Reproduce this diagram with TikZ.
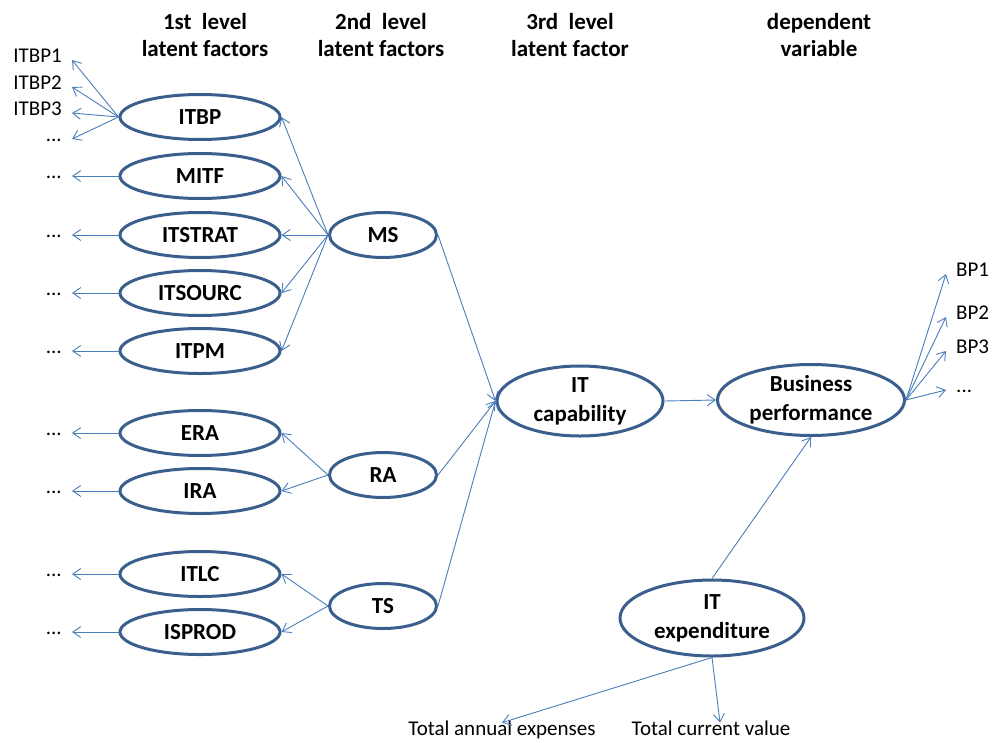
\documentclass[tikz,border=0pt]{standalone}
\usepackage{fontspec}
\setmainfont{Carlito}
\usepackage{xcolor}
\usetikzlibrary{shapes.geometric,arrows.meta,positioning}
\definecolor{ellblue}{HTML}{3B5F8D}
\definecolor{arrblue}{HTML}{4A7EBB}

\begin{document}
\begin{tikzpicture}[
  x=1pt, y=-1pt,
  lat/.style={ellipse, draw=ellblue, line width=3pt, inner sep=0pt, minimum width=160pt, minimum height=45pt, align=center, font=\fontsize{23}{29}\selectfont\bfseries},
  ind/.style={font=\fontsize{21}{25}\selectfont, inner xsep=10pt, text height=1.5ex, text depth=.25ex},
  hdr/.style={align=center, font=\fontsize{23}{27}\selectfont\bfseries},
  arr/.style={draw=arrblue, line width=0.9pt, -{Straight Barb[length=8pt,width=11pt]}}
]
\useasboundingbox (0,0) rectangle (992,742);

% column headers
\node[hdr] (h1) at (205,35) {1st\ \ level\\latent factors};
\node[hdr] (h2) at (381,35) {2nd\ \ level\\latent factors};
\node[hdr] (h3) at (570,35) {3rd\ \ level\\latent factor};
\node[hdr] (h4) at (819,35) {dependent\\variable};

% 1st level latent factors
\node[lat] (itbp) at (200,117) {ITBP};
\node[lat] (mitf) at (200,176) {MITF};
\node[lat] (itstrat) at (200,235) {ITSTRAT};
\node[lat] (itsourc) at (200,293) {ITSOURC};
\node[lat] (itpm) at (200,351) {ITPM};
\node[lat] (era) at (200,433) {ERA};
\node[lat] (ira) at (200,491) {IRA};
\node[lat] (itlc) at (200,574) {ITLC};
\node[lat] (isprod) at (200,632) {ISPROD};

% 2nd level latent factors
\node[lat, minimum width=107pt] (ms) at (383,235) {MS};
\node[lat, minimum width=107pt] (ra) at (383,475) {RA};
\node[lat, minimum width=107pt] (ts) at (383,606) {TS};

% 3rd level, dependent variable, covariate
\node[lat, minimum width=166pt, minimum height=70pt] (itcap) at (580,401) {IT\\capability};
\node[lat, minimum width=187pt, minimum height=71pt] (bp) at (811,400) {Business\\performance};
\node[lat, minimum width=184pt, minimum height=76pt] (itexp) at (712,618) {IT\\expenditure};

% indicators
\node[ind, anchor=east] (itbp1) at (72,60) {ITBP1};
\node[ind, anchor=east] (itbp2) at (72,87) {ITBP2};
\node[ind, anchor=east] (itbp3) at (72,113) {ITBP3};
\node[ind, anchor=east] (itbpn) at (72,139) {...};
\node[ind, anchor=east] (mitfn) at (72,176) {...};
\node[ind, anchor=east] (itstratn) at (72,235) {...};
\node[ind, anchor=east] (itsourcn) at (72,293) {...};
\node[ind, anchor=east] (itpmn) at (72,351) {...};
\node[ind, anchor=east] (eran) at (72,433) {...};
\node[ind, anchor=east] (iran) at (72,491) {...};
\node[ind, anchor=east] (itlcn) at (72,574) {...};
\node[ind, anchor=east] (isprodn) at (72,632) {...};

\node[ind, anchor=west] (bp1) at (946,274) {BP1};
\node[ind, anchor=west] (bp2) at (946,317) {BP2};
\node[ind, anchor=west] (bp3) at (946,351) {BP3};
\node[ind, anchor=west] (bpn) at (946,390) {...};

\node[ind, inner ysep=6pt] (tae) at (502,733) {Total annual expenses};
\node[ind, inner ysep=6pt] (tcv) at (711,733) {Total current value};

% loadings
\draw[arr] (itbp.west) -- (itbp1.east);
\draw[arr] (itbp.west) -- (itbp2.east);
\draw[arr] (itbp.west) -- (itbp3.east);
\draw[arr] (itbp.west) -- (itbpn.east);
\draw[arr] (mitf.west) -- (mitfn.east);
\draw[arr] (itstrat.west) -- (itstratn.east);
\draw[arr] (itsourc.west) -- (itsourcn.east);
\draw[arr] (itpm.west) -- (itpmn.east);
\draw[arr] (era.west) -- (eran.east);
\draw[arr] (ira.west) -- (iran.east);
\draw[arr] (itlc.west) -- (itlcn.east);
\draw[arr] (isprod.west) -- (isprodn.east);

\draw[arr] (ms.west) -- (itbp.east);
\draw[arr] (ms.west) -- (mitf.east);
\draw[arr] (ms.west) -- (itstrat.east);
\draw[arr] (ms.west) -- (itsourc.east);
\draw[arr] (ms.west) -- (itpm.east);
\draw[arr] (ra.west) -- (era.east);
\draw[arr] (ra.west) -- (ira.east);
\draw[arr] (ts.west) -- (itlc.east);
\draw[arr] (ts.west) -- (isprod.east);

\draw[arr] (ms.east) -- (itcap.west);
\draw[arr] (ra.east) -- (itcap.west);
\draw[arr] (ts.east) -- (itcap.west);

\draw[arr] (itcap.east) -- (bp.west);
\draw[arr] (itexp.north) -- (bp.south);

\draw[arr] (bp.east) -- (bp1.west);
\draw[arr] (bp.east) -- (bp2.west);
\draw[arr] (bp.east) -- (bp3.west);
\draw[arr] (bp.east) -- (bpn.west);

\draw[arr] (itexp.south) -- (tae.north);
\draw[arr] (itexp.south) -- ([xshift=9pt]tcv.north);

\end{tikzpicture}
\end{document}
